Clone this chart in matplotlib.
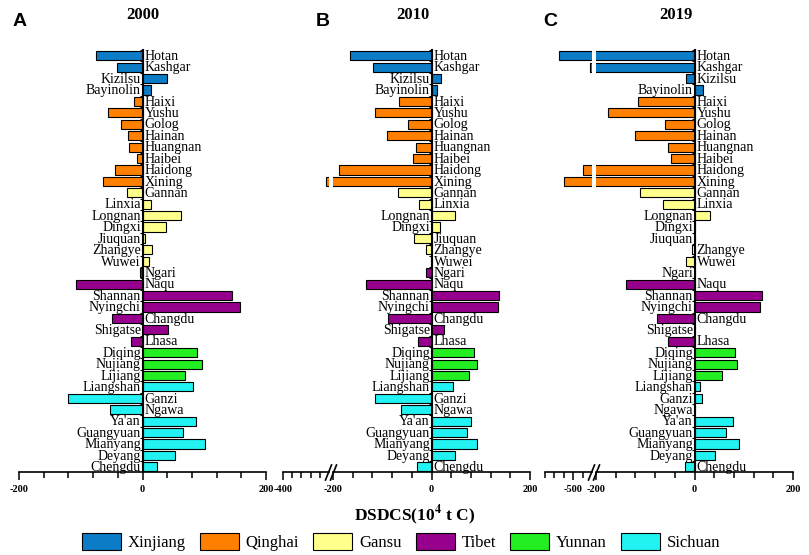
import matplotlib
matplotlib.use("Agg")
import matplotlib.pyplot as plt
from matplotlib.patches import Patch
from matplotlib.lines import Line2D
from matplotlib.ticker import FixedLocator, NullFormatter

plt.rcParams['font.family'] = ['Liberation Serif', 'DejaVu Serif']
plt.rcParams['mathtext.fontset'] = 'stix'

# cities, top to bottom
names = ["Hotan", "Kashgar", "Kizilsu", "Bayinolin",
         "Haixi", "Yushu", "Golog", "Hainan", "Huangnan", "Haibei", "Haidong", "Xining",
         "Gannan", "Linxia", "Longnan", "Dingxi", "Jiuquan", "Zhangye", "Wuwei",
         "Ngari", "Naqu", "Shannan", "Nyingchi", "Changdu", "Shigatse", "Lhasa",
         "Diqing", "Nujiang", "Lijiang",
         "Liangshan", "Ganzi", "Ngawa", "Ya'an", "Guangyuan", "Mianyang", "Deyang", "Chengdu"]
province = (["Xinjiang"] * 4 + ["Qinghai"] * 8 + ["Gansu"] * 7 + ["Tibet"] * 7
            + ["Yunnan"] * 3 + ["Sichuan"] * 8)

v2000 = [-75, -41, 40, 13, -13, -56, -35, -24, -22, -9, -44, -64, -25, 13, 62, 38, 4, 15, 11,
         -4, -107, 145, 158, -50, 42, -18, 88, 97, 69, 81, -120, -52, 87, 65, 102, 52, 23]
v2010 = [-166, -119, 20, 11, -65, -114, -48, -90, -31, -38, -187, -213, -69, -26, 48, 18, -35, -12, -1,
         -11, -132, 138, 136, -88, 25, -28, 86, 93, 77, 44, -115, -61, 81, 73, 92, 47, -29]
v2019 = [-562, -430, -18, 18, -114, -176, -60, -121, -53, -47, -460, -540, -110, -64, 32, 1, 0, -6, -17,
         0, -140, 137, 134, -77, 0, -53, 83, 87, 55, 12, 15, 0, 79, 64, 90, 41, -19]

prov_names = ["Xinjiang", "Qinghai", "Gansu", "Tibet", "Yunnan", "Sichuan"]
prov_colors = ["#0c7cc6", "#ff8000", "#ffff8c", "#96008c", "#22ee22", "#22f2f2"]
cmap = dict(zip(prov_names, prov_colors))

W, H = 809, 555
fig = plt.figure(figsize=(W / 100, H / 100), dpi=100)

y_bot, y_top = 472, 49.5
n = len(names)
ypos = [n - 1 - i for i in range(n)]
cols = [cmap[p] for p in province]


def rect(x0, x1):
    return [x0 / W, (H - y_bot) / H, (x1 - x0) / W, (y_bot - y_top) / H]


def draw_bars(ax, vals):
    ax.barh(ypos, vals, height=0.8, color=cols, edgecolor='black', linewidth=0.8, zorder=2)
    ax.set_ylim(-0.45, n - 0.45)
    for s in ['top', 'right']:
        ax.spines[s].set_visible(False)
    ax.spines['bottom'].set_linewidth(1.2)
    ax.tick_params(axis='x', which='major', length=6, width=1.1, direction='out', pad=3)
    ax.tick_params(axis='x', which='minor', length=4, width=1.1, direction='out')
    ax.patch.set_alpha(0)


def main_axis(ax, vals, xlim):
    draw_bars(ax, vals)
    ax.set_xlim(*xlim)
    ax.spines['left'].set_position(('data', 0))
    ax.spines['left'].set_linewidth(1.5)
    ax.spines['left'].set_zorder(3)
    ax.set_yticks([i + 0.5 for i in range(n - 1)] + [n - 0.5])
    ax.set_yticklabels([])
    ax.tick_params(axis='y', length=2.5, width=0.8, direction='out')
    for y, name, v in zip(ypos, names, vals):
        if v >= 0:
            ax.annotate(name, xy=(0, y), xytext=(-1.2, -0.5), textcoords='offset points',
                        ha='right', va='center', fontsize=10, annotation_clip=False, zorder=4)
        else:
            ax.annotate(name, xy=(0, y), xytext=(1.5, -0.5), textcoords='offset points',
                        ha='left', va='center', fontsize=10, annotation_clip=False, zorder=4)


def side_axis(ax, vals, xlim):
    draw_bars(ax, vals)
    ax.set_xlim(*xlim)
    ax.spines['left'].set_visible(False)
    ax.set_yticks([])


def set_ticks(ax, labeled, minor):
    ax.xaxis.set_major_locator(FixedLocator(labeled))
    ax.xaxis.set_minor_locator(FixedLocator(minor))
    ax.xaxis.set_minor_formatter(NullFormatter())
    ax.set_xticklabels([str(t) for t in labeled], fontweight='bold', fontsize=7.5)


# Panel A
axA = fig.add_axes(rect(19, 266))
main_axis(axA, v2000, (-200, 200))
set_ticks(axA, [-200, 0, 200], [-160, -120, -80, -40, 40, 80, 120, 160])

# Panel B (broken axis)
axB0 = fig.add_axes(rect(283, 329))
side_axis(axB0, v2010, (-400, -200))
set_ticks(axB0, [-400], [-360, -320, -280, -240])
axB = fig.add_axes(rect(333, 530))
main_axis(axB, v2010, (-200, 200))
set_ticks(axB, [-200, 0, 200], [-160, -120, -80, -40, 40, 80, 120, 160])

# Panel C (broken axis)
axC0 = fig.add_axes(rect(545, 592))
side_axis(axC0, v2019, (-620, -420))
set_ticks(axC0, [-500], [-620, -580, -540, -460])
axC = fig.add_axes(rect(596, 793))
main_axis(axC, v2019, (-200, 200))
set_ticks(axC, [-200, 0, 200], [-160, -120, -80, -40, 40, 80, 120, 160])

# break marks
for xc in (331, 594):
    for dx in (-2.5, 2.5):
        x = xc + dx
        fig.add_artist(Line2D([(x - 3) / W, (x + 3) / W], [(H - 480) / H, (H - 465) / H],
                              color='black', lw=1.2))

# titles and panel letters
for x, t in [(143, "2000"), (413, "2010"), (676, "2019")]:
    fig.text(x / W, 1 - 15 / H, t, ha='center', va='center', fontsize=12, fontweight='bold')
for x, t in [(20, "A"), (323, "B"), (550, "C")]:
    fig.text(x / W, 1 - 21 / H, t, ha='center', va='center', fontsize=14, fontweight='bold',
             family='Liberation Sans')

fig.text(415 / W, 1 - 515 / H, r"DSDCS(10$^{\mathbf{4}}$ t C)", ha='center', va='center',
         fontsize=12.5, fontweight='bold')

handles = [Patch(facecolor=c, edgecolor='black', linewidth=0.8) for c in prov_colors]
fig.legend(handles, prov_names, loc='center', bbox_to_anchor=(401 / W, 1 - 542 / H), ncol=6,
           frameon=False, fontsize=12, handlelength=2.35, handleheight=1.2,
           handletextpad=0.4, columnspacing=0.85, borderaxespad=0, borderpad=0)

fig.savefig("out.png", dpi=100)
